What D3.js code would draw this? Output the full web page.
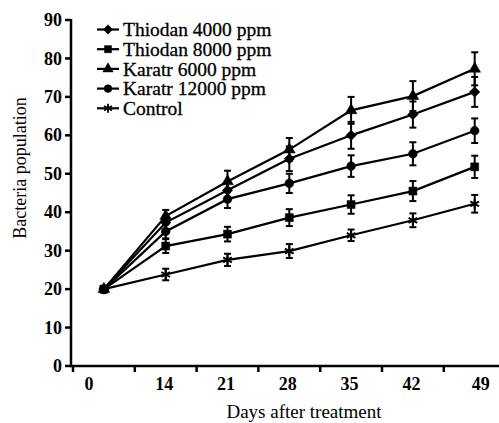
<!DOCTYPE html>
<html>
<head>
<meta charset="utf-8">
<script src="https://cdn.jsdelivr.net/npm/d3@7"></script>
<style>
  html, body { margin: 0; padding: 0; background: #fff; }
  svg { display: block; }
  text { font-family: "Liberation Serif", "Times New Roman", serif; fill: #000; }
</style>
</head>
<body>
<svg id="chart" width="499" height="423"></svg>
<script>
// ---- data ----
const days = ["0", "14", "21", "28", "35", "42", "49"];
const seriesNames = ["Thiodan 4000 ppm", "Thiodan 8000 ppm", "Karatr 6000 ppm", "Karatr 12000 ppm", "Control"];
const thiodan4000 = [20, 37.3, 45.7, 53.9, 60.0, 65.4, 71.3];
const thiodan8000 = [20, 31.2, 34.3, 38.6, 42.0, 45.5, 51.8];
const karatr6000  = [20, 39.0, 48.0, 56.3, 66.5, 70.2, 77.3];
const karatr12000 = [20, 35.0, 43.4, 47.5, 52.0, 55.2, 61.2];
const control     = [20, 23.8, 27.6, 29.9, 34.0, 37.9, 42.2];
const errT4000  = [0.8, 1.8, 2.3, 3.2, 3.5, 3.4, 3.9];
const errT8000  = [0.8, 1.8, 1.9, 2.2, 2.4, 2.6, 2.9];
const errK6000  = [0.8, 1.6, 2.8, 3.0, 3.5, 3.9, 4.3];
const errK12000 = [0.8, 1.8, 2.3, 2.5, 2.8, 3.0, 3.2];
const errControl = [0.8, 1.5, 1.6, 1.8, 1.5, 1.8, 2.3];
const yTicks = [0, 10, 20, 30, 40, 50, 60, 70, 80, 90];

const series = [
  { name: seriesNames[0], values: thiodan4000, err: errT4000, symbol: d3.symbolDiamond2 || d3.symbolDiamond, fill: true, size: 70 },
  { name: seriesNames[1], values: thiodan8000, err: errT8000, symbol: d3.symbolSquare, fill: true, size: 64 },
  { name: seriesNames[2], values: karatr6000,  err: errK6000,  symbol: d3.symbolTriangle, fill: true, size: 60 },
  { name: seriesNames[3], values: karatr12000, err: errK12000, symbol: d3.symbolCircle, fill: true, size: 60 },
  { name: seriesNames[4], values: control,     err: errControl, symbol: d3.symbolAsterisk || d3.symbolCross, fill: false, size: 70 }
];

// ---- layout ----
const svg = d3.select("#chart");
const x = d3.scaleBand().domain(days).range([73, 73 + 7 * 61.8]).paddingInner(0).paddingOuter(0);
const y = d3.scaleLinear().domain([0, 90]).range([366, 20]);

// x axis
const xAxisG = svg.append("g").attr("transform", "translate(0,366)");
xAxisG.append("line").attr("x1", 70).attr("x2", 499).attr("y1", 0).attr("y2", 0)
  .attr("stroke", "#000").attr("stroke-width", 2.5);
const xBounds = days.map(d => x(d));
xAxisG.selectAll("line.tick").data(xBounds).join("line")
  .attr("class", "tick").attr("x1", d => d).attr("x2", d => d).attr("y1", 0).attr("y2", 6)
  .attr("stroke", "#000").attr("stroke-width", 2.5);
const lastIdx = days.length - 1;
xAxisG.selectAll("text.lab").data(days).join("text")
  .attr("class", "lab")
  .attr("x", (d, i) => x(d) + x.bandwidth() / 2 + (i === 0 ? -15 : i === lastIdx ? 6 : -1.5))
  .attr("y", 24)
  .attr("text-anchor", "middle")
  .attr("font-size", 18).attr("font-weight", "bold")
  .text(d => d);

// y axis
const yAxisG = svg.append("g").attr("transform", "translate(71,0)");
yAxisG.append("line").attr("x1", 0).attr("x2", 0).attr("y1", y(90) - 1).attr("y2", 367)
  .attr("stroke", "#000").attr("stroke-width", 2.5);
yAxisG.selectAll("line.tick").data(yTicks).join("line")
  .attr("class", "tick").attr("x1", -6).attr("x2", 0).attr("y1", d => y(d)).attr("y2", d => y(d))
  .attr("stroke", "#000").attr("stroke-width", 2.5);
yAxisG.selectAll("text.lab").data(yTicks).join("text")
  .attr("class", "lab")
  .attr("x", -9).attr("y", d => y(d)).attr("dy", "0.34em")
  .attr("text-anchor", "end")
  .attr("font-size", 18).attr("font-weight", "bold")
  .text(d => d);

// axis titles
svg.append("text").attr("x", 304).attr("y", 418).attr("text-anchor", "middle")
  .attr("font-size", 19).text("Days after treatment");
svg.append("text").attr("transform", "translate(26,168) rotate(-90)").attr("text-anchor", "middle")
  .attr("font-size", 18).text("Bacteria population");

// series
const cx = d => x(d) + x.bandwidth() / 2;
const line = d3.line().x(d => cx(d.day)).y(d => y(d.v));
const sym = d3.symbol();

series.forEach(s => {
  const pts = days.map((d, i) => ({ day: d, v: s.values[i], e: s.err[i] }));
  const g = svg.append("g");
  g.append("path").datum(pts).attr("d", line).attr("fill", "none")
    .attr("stroke", "#000").attr("stroke-width", 2.2);
  // error bars
  const eb = g.selectAll("g.eb").data(pts).join("g").attr("class", "eb");
  eb.append("line").attr("x1", d => cx(d.day)).attr("x2", d => cx(d.day))
    .attr("y1", d => y(d.v + d.e)).attr("y2", d => y(d.v - d.e))
    .attr("stroke", "#000").attr("stroke-width", 2);
  eb.append("line").attr("x1", d => cx(d.day) - 3.5).attr("x2", d => cx(d.day) + 3.5)
    .attr("y1", d => y(d.v + d.e)).attr("y2", d => y(d.v + d.e))
    .attr("stroke", "#000").attr("stroke-width", 2);
  eb.append("line").attr("x1", d => cx(d.day) - 3.5).attr("x2", d => cx(d.day) + 3.5)
    .attr("y1", d => y(d.v - d.e)).attr("y2", d => y(d.v - d.e))
    .attr("stroke", "#000").attr("stroke-width", 2);
  // markers
  g.selectAll("path.m").data(pts).join("path").attr("class", "m")
    .attr("transform", d => `translate(${cx(d.day)},${y(d.v)})`)
    .attr("d", sym.type(s.symbol).size(s.size)())
    .attr("fill", s.fill ? "#000" : "none")
    .attr("stroke", "#000").attr("stroke-width", s.fill ? 0.5 : 2);
});

// legend
const legend = svg.append("g");
const rowY = i => 29.5 + i * 19.7;
series.forEach((s, i) => {
  const lg = legend.append("g").attr("transform", `translate(0,${rowY(i)})`);
  lg.append("line").attr("x1", 97).attr("x2", 119).attr("y1", 0).attr("y2", 0)
    .attr("stroke", "#000").attr("stroke-width", 2.2);
  lg.append("path").attr("transform", "translate(108,0)")
    .attr("d", d3.symbol().type(s.symbol).size(s.size * 0.8)())
    .attr("fill", s.fill ? "#000" : "none")
    .attr("stroke", "#000").attr("stroke-width", s.fill ? 0.5 : 1.8);
  lg.append("text").attr("x", 123).attr("y", 0).attr("dy", "0.34em")
    .attr("font-size", 19.5).attr("stroke", "#000").attr("stroke-width", 0.3)
    .text(s.name);
});
</script>
</body>
</html>
